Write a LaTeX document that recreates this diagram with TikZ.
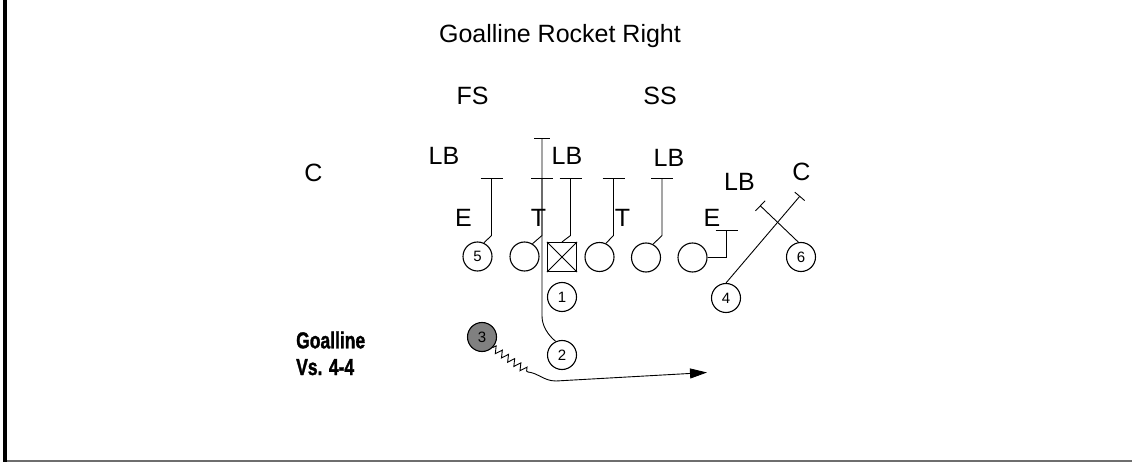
\documentclass[tikz,border=0pt]{standalone}
\usepackage{fontspec}
\usepackage{graphicx}
\setmainfont{Liberation Sans}
\newfontfamily\heavy{Liberation Sans}[BoldFeatures={FakeBold=1.6}]
\usetikzlibrary{arrows.meta,decorations.pathmorphing}
\definecolor{backgray}{RGB}{128,128,128}
\definecolor{framegray}{RGB}{110,110,110}
\begin{document}
\begin{tikzpicture}[x=1pt,y=-1pt,
  lab/.style={font=\fontsize{25}{25}\selectfont, inner sep=0pt, anchor=base},
  tag/.style={font=\heavy\fontsize{23}{23}\selectfont\bfseries, inner sep=0pt, anchor=base west},
  man/.style={circle, draw, line width=1.1pt, minimum size=29pt, inner sep=0pt,
              font=\fontsize{15}{15}\selectfont},
  route/.style={line width=0.9pt},
  blockbar/.style={-{Bar[width=#1, line width=0.9pt]}},
]
\useasboundingbox (0,0) rectangle (1132,462);

% frame
\fill (3,0) rectangle (7,462);
\draw[framegray, line width=1.5pt] (7,461) -- (1132,461);

% title and defence
\node[lab] (title) at (560,42.5) {Goalline Rocket Right};
\node[lab] (fs)  at (472.5,105) {FS};
\node[lab] (ss)  at (660,105) {SS};
\node[lab] (lbl) at (444,165) {LB};
\node[lab] (lbm) at (567,165) {LB};
\node[lab] (lbr) at (669,166.5) {LB};
\node[lab] (cl)  at (313.5,181.5) {C};
\node[lab] (lbx) at (739.5,190.5) {LB};
\node[lab] (cr)  at (801.5,181) {C};
\node[lab] (el)  at (463.5,226.5) {E};
\node[lab] (tl)  at (538.5,226.5) {T};
\node[lab] (tr)  at (622.5,226.5) {T};
\node[lab] (er)  at (712,226.5) {E};

% play tag
\node[tag] (gl) at (296,348.3) {\scalebox{0.76}[1]{Goalline}};
\node[tag] (vs) at (296,375) {\scalebox{0.76}[1]{Vs. 4-4}};

% offence
\node[man] (p5) at (477.5,256.5) {5};
\node[man] (lg) at (524.5,256.5) {};
\node[draw, line width=1.1pt, minimum size=29pt, inner sep=0pt] (ctr) at (562,257) {};
\draw[line width=1pt] (ctr.north west) -- (ctr.south east)
                      (ctr.north east) -- (ctr.south west);
\node[man] (rg) at (599.5,257) {};
\node[man] (rt) at (646,257.5) {};
\node[man] (re) at (692.5,257.5) {};
\node[man] (p6) at (801,257) {6};
\node[man] (p4) at (726,298) {4};
\node[man] (p1) at (562,297) {1};
\node[man] (p2) at (562,355) {2};
\node[man, fill=backgray] (p3) at (482,337) {3};

% line blocks
\coordinate (b5) at (491.5,235.5);  \coordinate (e5) at (491.5,178.5);
\coordinate (blg) at (542,235.5);   \coordinate (elg) at (542,178.5);
\coordinate (bc) at (570.5,235.5);  \coordinate (ec) at (570.5,178.5);
\coordinate (brg) at (613.5,235.5); \coordinate (erg) at (613.5,178.5);
\coordinate (brt) at (662,235.5);   \coordinate (ert) at (662,178.5);
\coordinate (ere) at (726.5,230);
\draw[route, blockbar=22pt] (p5.65) -- (b5) -- (e5);
\draw[route, blockbar=22pt] (lg.58) -- (blg) -- (elg);
\draw[route, blockbar=22pt] (ctr.north) -- (bc) -- (ec);
\draw[route, blockbar=22pt] (rg.65) -- (brg) -- (erg);
\draw[route, blockbar=22pt] (rt.62) -- (brt) -- (ert);
\draw[route, blockbar=22pt] (re.east) -| (ere);

% crossing blocks on the edge
\coordinate (e4) at (800,196);
\coordinate (e6) at (760,205.5);
\draw[route, blockbar=13pt] (p4.90) -- (e4);
\draw[route, blockbar=14pt] (p6.100) -- (e6);

% lead path up the middle
\coordinate (k2) at (542,316);
\coordinate (e2) at (542,138);
\draw[route, blockbar=16pt] (p2.115) .. controls (548,335) and (542,326) .. (k2) -- (e2);

% ball carrier: motion then sweep
\coordinate (z3) at (528,372);
\coordinate (c3) at (556,381);
\coordinate (a3) at (707,372.5);
\draw[route, decorate, decoration={zigzag, segment length=7.5pt, amplitude=3.5pt}]
  (p3.-45) -- (z3);
\draw[route, -{Triangle[length=17pt,width=10pt]}]
  (z3) .. controls (538,373) and (544,381) .. (c3) -- (a3);
\end{tikzpicture}
\end{document}
